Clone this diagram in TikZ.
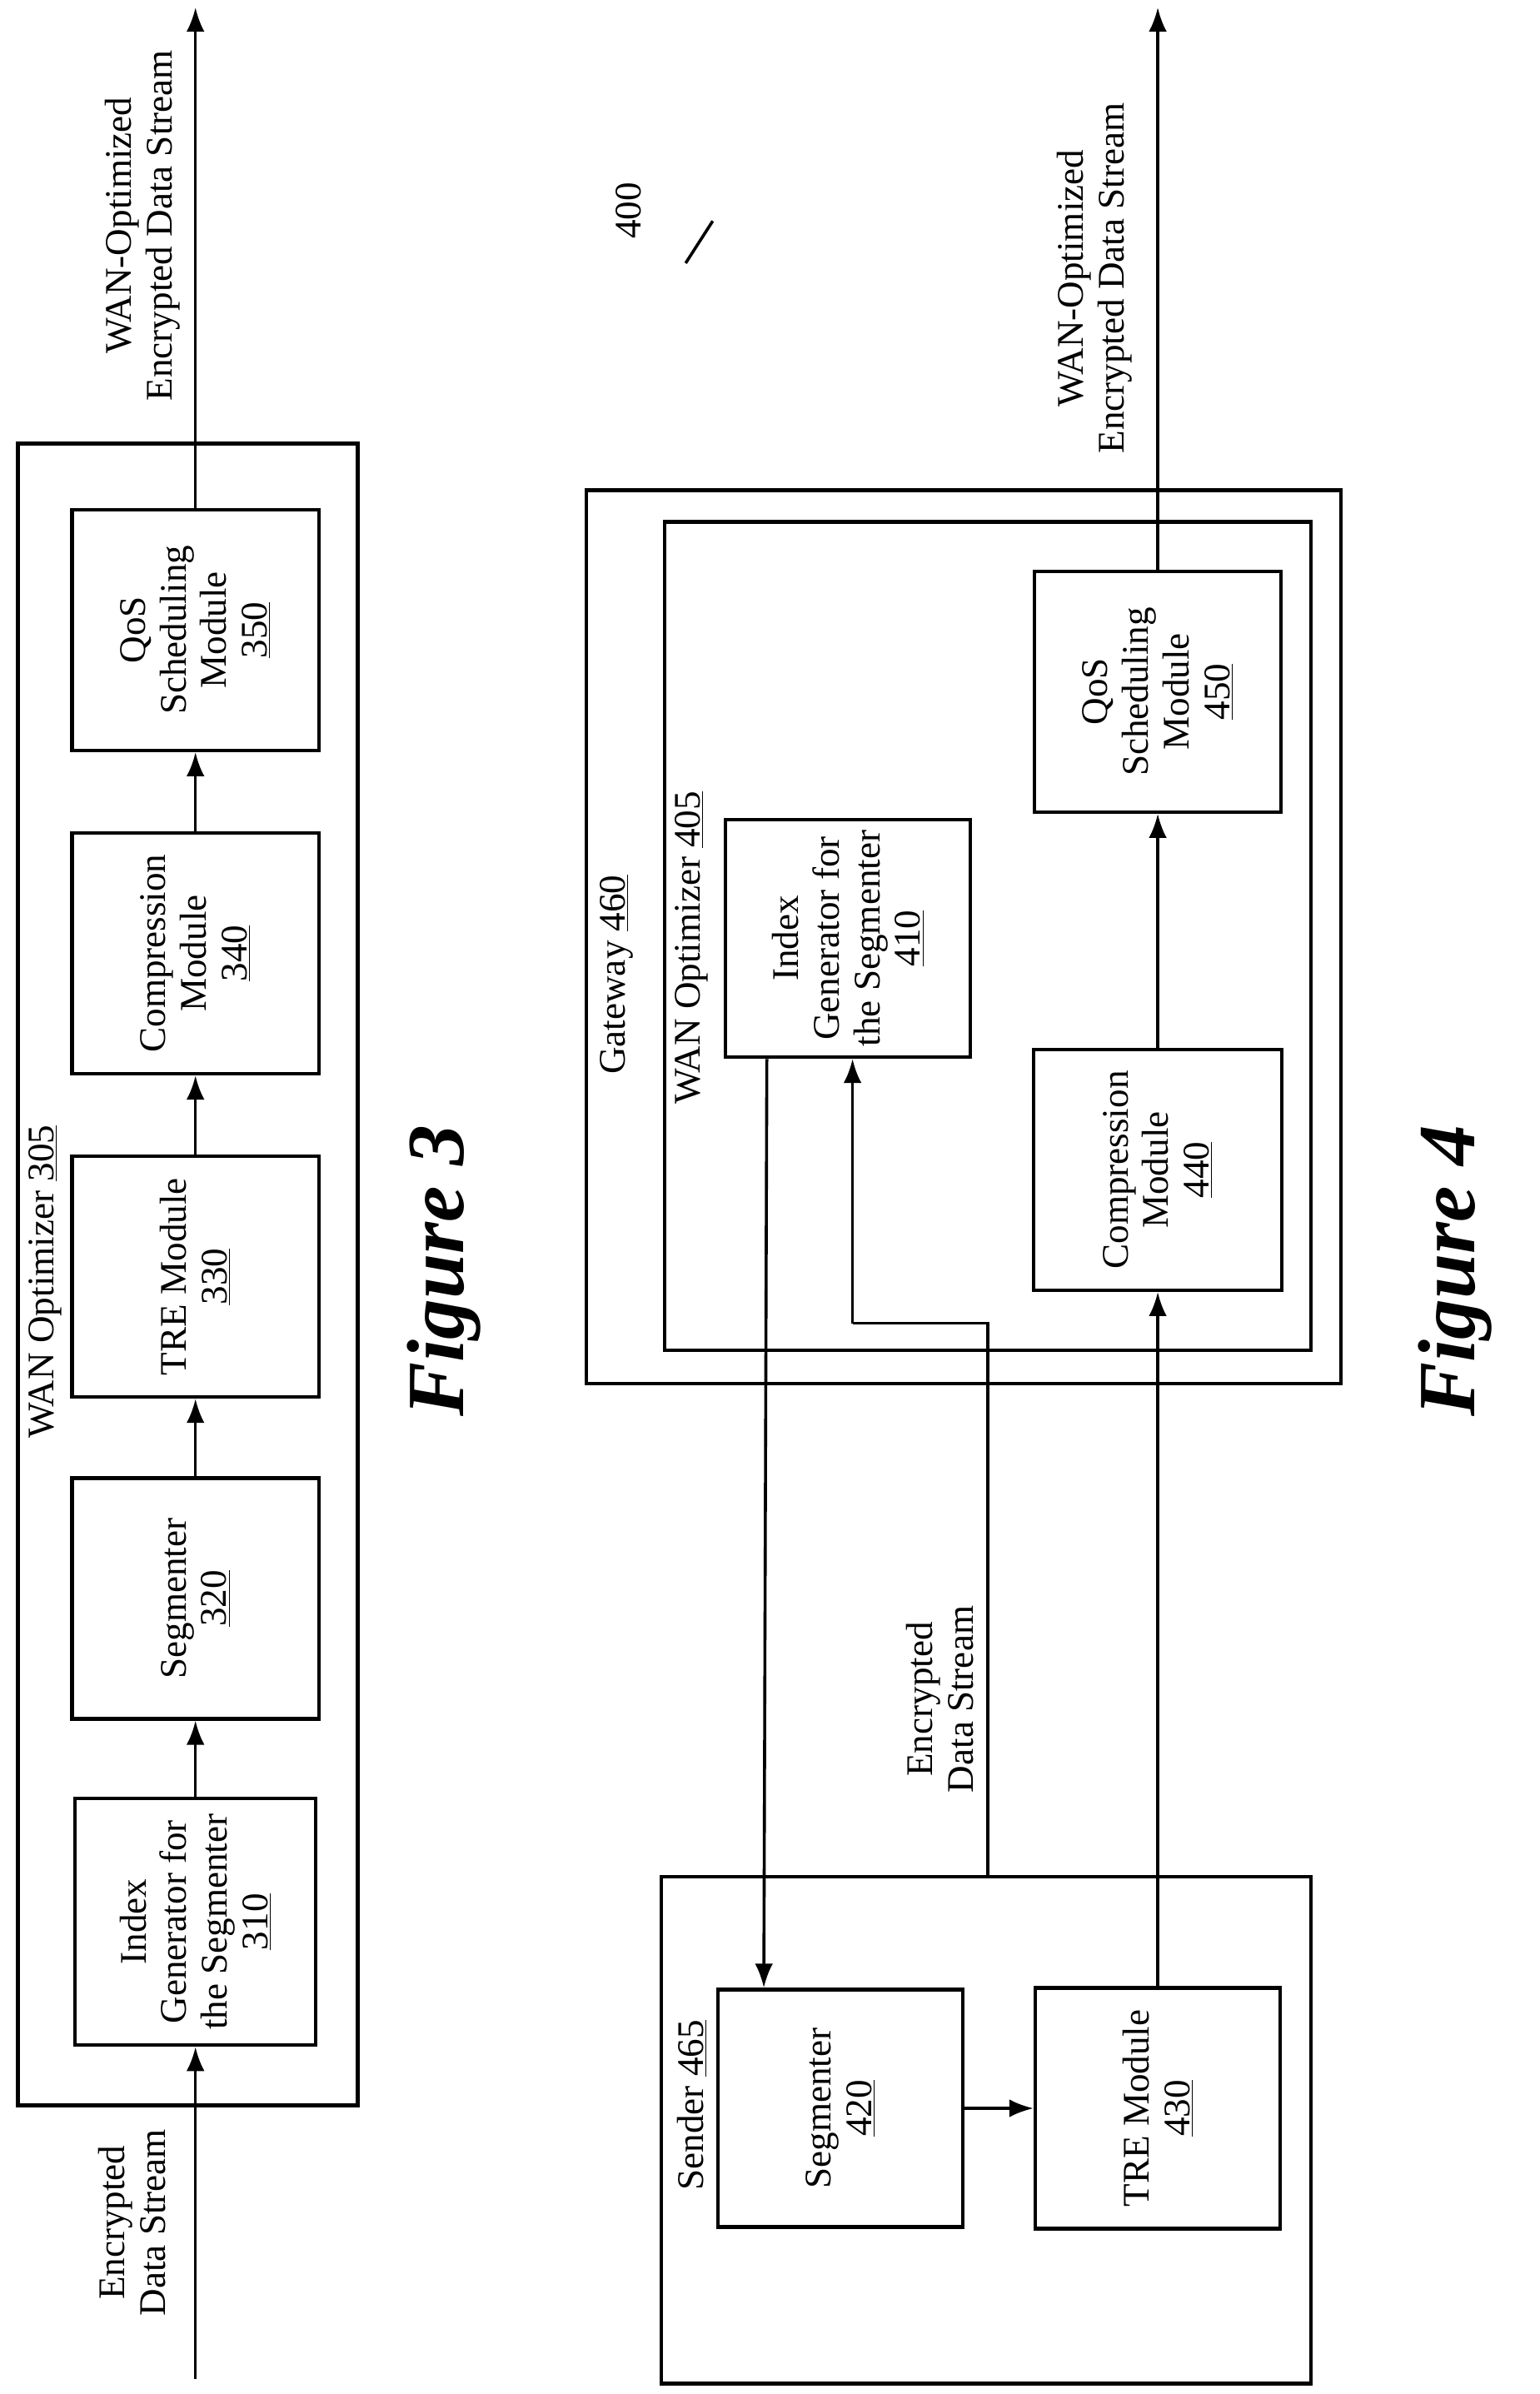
\documentclass[tikz,border=0pt]{standalone}
\usepackage{fontspec}
\setmainfont{Liberation Serif}
\usetikzlibrary{arrows.meta}
\begin{document}
\begin{tikzpicture}[x=1pt,y=-1pt,
  box/.style={draw,line width=2.4pt},
  lbl/.style={rotate=90,align=center,font=\fontsize{25}{27}\selectfont},
  arr/.style={line width=2pt,-{Latex[length=16pt,width=12pt]}},
  ln/.style={line width=2pt},
  fig/.style={rotate=90,font=\fontsize{54}{54}\selectfont\bfseries\itshape}]
\useasboundingbox (0,0) rectangle (1024,1592);
% Figure 3
\draw[box] (12,295) rectangle (238,1400);
\node[lbl,anchor=west] (w305) at (30,960) {WAN Optimizer \underline{305}};
\node[box,minimum width=160pt,minimum height=164pt] (b310) at (130,1278) {};
\node[lbl] at (b310) {Index\\Generator for\\the Segmenter\\\underline{310}};
\node[box,minimum width=164pt,minimum height=160pt] (b320) at (130,1063) {};
\node[lbl] at (b320) {Segmenter\\\underline{320}};
\node[box,minimum width=164pt,minimum height=160pt] (b330) at (130,849) {};
\node[lbl] at (b330) {TRE Module\\\underline{330}};
\node[box,minimum width=164pt,minimum height=160pt] (b340) at (130,634) {};
\node[lbl] at (b340) {Compression\\Module\\\underline{340}};
\node[box,minimum width=164pt,minimum height=160pt] (b350) at (130,419) {};
\node[lbl] at (b350) {QoS\\Scheduling\\Module\\\underline{350}};
\coordinate (in3) at (130,1582);
\coordinate (out3) at (130,5);
\draw[arr] (in3) -- (b310.south);
\draw[arr] (b310.north) -- (b320.south);
\draw[arr] (b320.north) -- (b330.south);
\draw[arr] (b330.north) -- (b340.south);
\draw[arr] (b340.north) -- (b350.south);
\draw[arr] (b350.north) -- (out3);
\node[lbl] (t3in) at (88,1478) {Encrypted\\Data Stream};
\node[lbl] (t3out) at (95,150) {WAN-Optimized\\Encrypted Data Stream};
\node[fig] (f3) at (295,845) {Figure 3};
% Figure 4
\node[lbl] (n400) at (418,140) {400};
\coordinate (s1) at (474,147); \coordinate (s2) at (456,175);
\draw[ln] (s1) -- (s2);
\draw[box] (390,326) rectangle (892,920);
\node[lbl,anchor=west] (g460) at (410,718) {Gateway \underline{460}};
\draw[box] (442,347) rectangle (872,898);
\node[lbl,anchor=west] (w405) at (460,738) {WAN Optimizer \underline{405}};
\draw[box] (440,1248) rectangle (872,1585);
\node[lbl,anchor=west] (s465) at (460,1460) {Sender \underline{465}};
\node[box,minimum width=163pt,minimum height=158pt] (b410) at (564,624) {};
\node[lbl] at (b410) {Index\\Generator for\\the Segmenter\\\underline{410}};
\node[box,minimum width=164pt,minimum height=160pt] (b450) at (770,460) {};
\node[lbl] at (b450) {QoS\\Scheduling\\Module\\\underline{450}};
\node[box,minimum width=165pt,minimum height=160pt] (b440) at (770,778) {};
\node[lbl] at (b440) {Compression\\Module\\\underline{440}};
\node[box,minimum width=163pt,minimum height=158pt] (b420) at (559,1402) {};
\node[lbl] at (b420) {Segmenter\\\underline{420}};
\node[box,minimum width=163pt,minimum height=160pt] (b430) at (770,1402) {};
\node[lbl] at (b430) {TRE Module\\\underline{430}};
\draw[arr] (b440.north) -- (b450.south);
\draw[arr] (b430.north) -- (b440.south);
\draw[arr] (b420.east) -- (b430.west);
\draw[arr] (b410.south -| 510,0) -- (b420.north -| 508,0);
\coordinate (e1) at (657,1248); \coordinate (e2) at (657,880); \coordinate (e3) at (567,880);
\draw[ln] (e1) -- (e2) -- (e3);
\draw[arr] (e3) -- (b410.south -| 567,0);
\coordinate (out4) at (770,5);
\draw[arr] (b450.north) -- (out4);
\node[lbl] (t4in) at (625,1130) {Encrypted\\Data Stream};
\node[lbl] (t4out) at (728,185) {WAN-Optimized\\Encrypted Data Stream};
\node[fig] (f4) at (968,845) {Figure 4};
\end{tikzpicture}
\end{document}
